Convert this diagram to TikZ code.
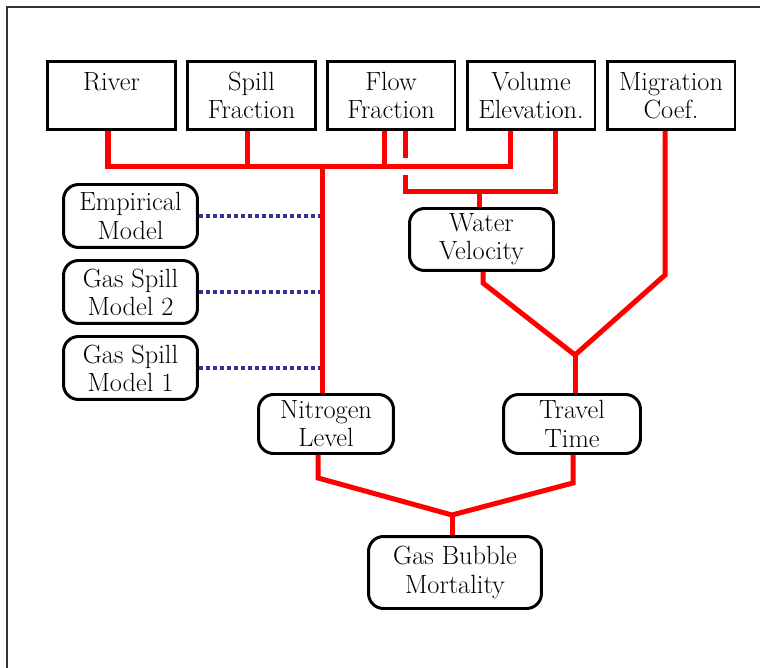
\documentclass[tikz,border=0pt]{standalone}
\usepackage{tikz}

\definecolor{hintBlue}{RGB}{52,52,150}

\begin{document}
\begin{tikzpicture}[x=0.02cm, y=-0.02cm]
		\useasboundingbox (0,0) rectangle (760,668);
		\draw[line width=1.1pt, black!80] (7,690) -- (7,7) -- (790,7);

		\begin{scope}
			[
				styleInput/.style={
					draw, line width=1.7pt, inner sep=0pt, align=center,
					minimum width=2.56cm, minimum height=1.36cm,
					font=\fontsize{15}{16}\selectfont
					},
				styleModel/.style={
					draw, line width=1.7pt, inner sep=0pt, align=center,
					rounded corners=0.3cm, minimum width=#1,
					font=\fontsize{15}{16}\selectfont
					},
			]
			\node(river)[styleInput] at (111.5,95.5) {River\\\phantom{Fraction}};
			\node(spill)[styleInput] at (251.5,95.5) {Spill\\Fraction};
			\node(flow)[styleInput] at (391,95.5) {Flow\\Fraction};
			\node(volume)[styleInput] at (531,95.5) {Volume\\Elevation.};
			\node(migration)[styleInput] at (671,95.5) {Migration\\Coef.};

			\node(empirical)[styleModel=2.68cm, minimum height=1.26cm] at (130.5,216) {Empirical\\Model};
			\node(spillTwo)[styleModel=2.68cm, minimum height=1.26cm] at (130.5,292) {Gas Spill\\Model 2};
			\node(spillOne)[styleModel=2.68cm, minimum height=1.26cm] at (130.5,368) {Gas Spill\\Model 1};

			\node(water)[styleModel=2.88cm, minimum height=1.24cm] at (481.5,239.5) {Water\\Velocity};
			\node(nitrogen)[styleModel=2.7cm, minimum height=1.18cm] at (326,424) {Nitrogen\\Level};
			\node(travel)[styleModel=2.74cm, minimum height=1.18cm] at (572,424) {Travel\\Time};
			\node(mortality)[styleModel=3.46cm, minimum height=1.44cm] at (455,572.5) {Gas Bubble\\Mortality};
		\end{scope}

		\begin{scope}
			[
				styleLink/.style={draw=red, line width=2.85pt},
				styleHint/.style={draw=hintBlue, line width=2.3pt, dash pattern=on 0.08cm off 0.06cm},
			]
			\coordinate(busTop) at (322,167);
			\coordinate(busLow) at (479,192);
			\coordinate(jTravel) at (575,355);
			\coordinate(jMortality) at (452,515);
			\coordinate(kMigration) at (665,275);

			\coordinate(outRiver) at ([xshift=-0.07cm]river.south);
			\coordinate(outSpill) at ([xshift=-0.09cm]spill.south);
			\coordinate(outFlowA) at ([xshift=-0.14cm]flow.south);
			\coordinate(outFlowB) at ([xshift=0.28cm]flow.south);
			\coordinate(outVolA) at ([xshift=-0.42cm]volume.south);
			\coordinate(outVolB) at ([xshift=0.48cm]volume.south);
			\coordinate(outMigration) at ([xshift=-0.12cm]migration.south);
			\coordinate(outWater) at ([xshift=0.03cm]water.south);
			\coordinate(outNitrogen) at ([xshift=-0.16cm]nitrogen.south);
			\coordinate(outTravel) at ([xshift=0.02cm]travel.south);

			\draw[styleHint] (empirical.east) -- (empirical.east -| busTop);
			\draw[styleHint] (spillTwo.east) -- (spillTwo.east -| busTop);
			\draw[styleHint] (spillOne.east) -- (spillOne.east -| busTop);

			\draw[styleLink] (outRiver) |- (busTop) -| (outVolA);
			\draw[styleLink] (outSpill) -- (outSpill |- busTop);
			\draw[styleLink] (outFlowA) -- (outFlowA |- busTop);
			\draw[styleLink] (busTop) -- (nitrogen.north -| busTop);

			\draw[styleLink] (outFlowB) -- ++(0,27) ++(0,17) |- (busLow) -| (outVolB);
			\draw[styleLink] (busLow) -- (water.north -| busLow);

			\draw[styleLink] (outWater) -- ++(0,11) -- (jTravel) -- (kMigration) -- (outMigration);
			\draw[styleLink] (jTravel) -- (travel.north -| jTravel);

			\draw[styleLink] (outNitrogen) -- ++(0,23) -- (jMortality) -- ([yshift=-0.56cm]outTravel) -- (outTravel);
			\draw[styleLink] (jMortality) -- (mortality.north -| jMortality);
		\end{scope}
	\end{tikzpicture}
\end{document}
